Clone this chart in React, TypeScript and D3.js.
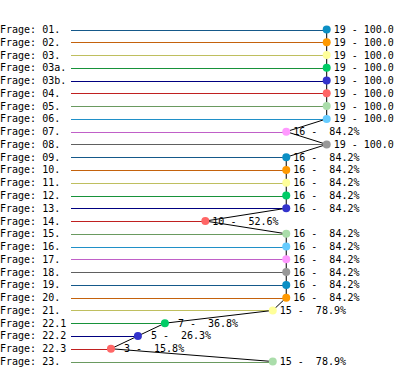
import React from 'react';
import * as d3 from 'd3';

const questions = [
  '01.', '02.', '03.', '03a.', '03b.', '04.', '05.', '06.', '07.', '08.',
  '09.', '10.', '11.', '12.', '13.', '14.', '15.', '16.', '17.', '18.',
  '19.', '20.', '21.', '22.1', '22.2', '22.3', '23.',
];
const counts = [
  19, 19, 19, 19, 19, 19, 19, 19, 16, 19,
  16, 16, 16, 16, 16, 10, 16, 16, 16, 16,
  16, 16, 15, 7, 5, 3, 15,
];
const total = 19;

const lineColors = ['#15598a', '#c4620c', '#bfbf5f', '#17923a', '#000080', '#c02020', '#6a9a60', '#2090c8', '#c060c8', '#606060'];
const dotColors = ['#0b8fc4', '#ff9900', '#ffff99', '#00cc66', '#3333cc', '#ff6666', '#aaddaa', '#66ccff', '#ff99ff', '#999999'];

export default function App() {
  const width = 394;
  const height = 373;
  const font = '"DejaVu Sans Mono", monospace';

  const x = d3.scaleLinear().domain([0, 100]).range([70.5, 326.7]);
  const y = d3.scalePoint<string>().domain(questions).range([29.5, 361.5]);

  const pts = questions.map((q, i) => {
    const pct = (counts[i] / total) * 100;
    return { q, i, pct, cx: x(pct), cy: y(q) as number };
  });

  const path = d3
    .line<{ cx: number; cy: number }>()
    .x((d) => d.cx)
    .y((d) => d.cy)(pts);

  return (
    <svg
      width={width}
      height={height}
      style={{ position: 'absolute', left: 0, top: 0, background: '#fff' }}
      fontFamily={font}
      fontSize={10}
    >
      {pts.map((p) => (
        <g key={p.q}>
          <text x={0} y={p.cy} dy="0.35em" fill="#000">
            {'Frage: ' + p.q}
          </text>
          <line
            x1={x(0)}
            x2={p.cx}
            y1={Math.round(p.cy) + 0.5}
            y2={Math.round(p.cy) + 0.5}
            stroke={lineColors[p.i % 10]}
            strokeWidth={1}
            shapeRendering="crispEdges"
          />
          <text x={p.cx + 7} y={p.cy} dy="0.35em" fill="#000" style={{ whiteSpace: 'pre' }}>
            {String(counts[p.i]).padStart(2, ' ') + ' - ' + p.pct.toFixed(1).padStart(5, ' ') + '%'}
          </text>
        </g>
      ))}
      <path d={path || ''} fill="none" stroke="#000" strokeWidth={1} />
      {pts.map((p) => (
        <circle key={'c' + p.q} cx={p.cx} cy={p.cy} r={4} fill={dotColors[p.i % 10]} />
      ))}
    </svg>
  );
}
